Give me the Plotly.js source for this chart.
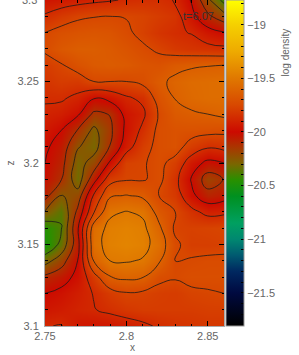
<!DOCTYPE html>
<html>
<head>
<meta charset="utf-8">
<script src="https://cdn.plot.ly/plotly-3.0.1.min.js"></script>
<style>html,body{margin:0;padding:0;background:#fff;}#plot{width:299px;height:355px;}</style>
</head>
<body>
<div id="plot"></div>
<script>
// grid coordinates
const xVals = [2.75, 2.76, 2.77, 2.78, 2.79, 2.80, 2.81, 2.82, 2.83, 2.84, 2.85, 2.86];
const yVals = [3.10, 3.11, 3.12, 3.13, 3.14, 3.15, 3.16, 3.17, 3.18, 3.19, 3.20,
               3.21, 3.22, 3.23, 3.24, 3.25, 3.26, 3.27, 3.28, 3.29, 3.30];

// log density, one row per z value
const r310 = [-19.88, -19.87, -19.95, -19.96, -19.95, -19.93, -19.90, -19.86, -19.84, -19.83, -19.82, -19.82];
const r311 = [-19.95, -19.93, -19.90, -19.88, -19.85, -19.82, -19.80, -19.80, -19.80, -19.80, -19.79, -19.79];
const r312 = [-20.00, -19.97, -19.92, -19.87, -19.80, -19.76, -19.77, -19.79, -19.80, -19.77, -19.76, -19.75];
const r313 = [-20.10, -20.05, -19.97, -19.80, -19.63, -19.60, -19.62, -19.72, -19.74, -19.72, -19.72, -19.72];
const r314 = [-20.30, -20.18, -20.00, -19.62, -19.50, -19.49, -19.51, -19.61, -19.75, -19.74, -19.73, -19.73];
const r315 = [-20.50, -20.34, -20.05, -19.54, -19.46, -19.44, -19.46, -19.55, -19.73, -19.79, -19.79, -19.78];
const r316 = [-20.46, -20.38, -20.02, -19.56, -19.47, -19.45, -19.47, -19.60, -19.77, -19.78, -19.77, -19.76];
const r317 = [-20.26, -20.36, -20.10, -19.76, -19.52, -19.495, -19.52, -19.67, -19.75, -19.84, -19.91, -19.90];
const r318 = [-20.08, -20.26, -20.20, -19.86, -19.64, -19.62, -19.645, -19.75, -19.81, -19.97, -20.08, -20.05];
const r319 = [-20.02, -20.12, -20.32, -20.05, -19.80, -19.76, -19.76, -19.72, -19.84, -20.01, -20.19, -20.12];
const r320 = [-20.00, -20.08, -20.30, -20.20, -19.98, -19.78, -19.76, -19.72, -19.79, -19.94, -20.03, -20.00];
const r321 = [-19.98, -20.05, -20.24, -20.30, -20.12, -19.93, -19.79, -19.72, -19.70, -19.80, -19.86, -19.84];
const r322 = [-19.94, -20.00, -20.13, -20.28, -20.15, -19.97, -19.85, -19.72, -19.70, -19.70, -19.71, -19.72];
const r323 = [-19.90, -19.92, -19.98, -20.15, -20.12, -19.96, -19.90, -19.74, -19.66, -19.64, -19.625, -19.60];
const r324 = [-19.86, -19.86, -19.90, -19.99, -19.96, -19.89, -19.85, -19.70, -19.62, -19.58, -19.56, -19.56];
const r325 = [-19.83, -19.80, -19.81, -19.75, -19.75, -19.75, -19.72, -19.65, -19.60, -19.57, -19.56, -19.55];
const r326 = [-19.80, -19.76, -19.70, -19.66, -19.65, -19.66, -19.69, -19.70, -19.66, -19.64, -19.63, -19.625];
const r327 = [-19.73, -19.67, -19.64, -19.64, -19.66, -19.69, -19.73, -19.77, -19.81, -19.83, -19.84, -19.85];
const r328 = [-19.75, -19.71, -19.69, -19.68, -19.69, -19.73, -19.78, -19.83, -19.86, -19.88, -19.95, -19.99];
const r329 = [-19.86, -19.81, -19.77, -19.755, -19.75, -19.755, -19.77, -19.80, -19.83, -19.96, -20.10, -20.20];
const r330 = [-19.96, -19.94, -19.92, -19.90, -19.885, -19.865, -19.85, -19.85, -19.88, -20.01, -20.22, -20.42];

const zGrid = [r310, r311, r312, r313, r314, r315, r316, r317, r318, r319, r320,
               r321, r322, r323, r324, r325, r326, r327, r328, r329, r330];

// colour bar
const zMin = -21.81, zMax = -18.77;
const cbMajor = [-21.5, -21, -20.5, -20, -19.5, -19];
const cbLabels = ['\u221221.5', '\u221221', '\u221220.5', '\u221220', '\u221219.5', '\u221219'];
const xTicks = [2.75, 2.8, 2.85];
const xTickText = ['2.75', '2.8', '2.85'];
const yTicks = [3.1, 3.15, 3.2, 3.25];
const yTickText = ['3.1', '3.15', '3.2', '3.25'];
const yTopLabel = '3.3';
const timeLabel = 't=6.07';

// colour map stops (value, colour)
const mapVals = [-21.81, -21.5, -21.3, -21.15, -21.0, -20.85, -20.6, -20.45, -20.3, -20.15, -20.0, -19.75, -19.5, -19.25, -19.0, -18.77];
const mapCols = ['#000000', '#000a40', '#002860', '#005a70', '#008870', '#00a060', '#009020', '#289000',
                 '#7a6600', '#a83800', '#cc0a00', '#d84800', '#e07800', '#eeaa00', '#f5d000', '#ffff00'];
const colorscale = mapVals.map((v, i) => [(v - zMin) / (zMax - zMin), mapCols[i]]);

// colour bar ticks every 0.1, labels on the majors
const cbTickVals = [], cbTickText = [];
for (let k = -218; k <= -188; k++) {
  const v = k / 10;
  cbTickVals.push(v);
  const j = cbMajor.findIndex(m => Math.abs(m - v) < 1e-6);
  cbTickText.push(j >= 0 ? cbLabels[j] : '');
}

const font = {family: 'Liberation Sans, Arial, sans-serif', size: 11, color: '#666'};

const heat = {
  type: 'heatmap', x: xVals, y: yVals, z: zGrid,
  zmin: zMin, zmax: zMax, colorscale: colorscale, zsmooth: 'best',
  colorbar: {
    x: 1.011, xanchor: 'left', xpad: 0, y: 0, yanchor: 'bottom', ypad: 0,
    len: 1, lenmode: 'fraction', thickness: 18, thicknessmode: 'pixels',
    outlinecolor: '#999', outlinewidth: 1,
    tickmode: 'array', tickvals: cbTickVals, ticktext: cbTickText,
    ticks: 'inside', ticklen: 3, tickcolor: '#000', tickwidth: 1,
    tickfont: font
  },
  hoverinfo: 'skip'
};

const lines = {
  type: 'contour', x: xVals, y: yVals, z: zGrid,
  showscale: false,
  contours: {coloring: 'none', start: -21, end: -19, size: 0.125},
  line: {color: '#1a1a1a', width: 0.8, smoothing: 1.3},
  hoverinfo: 'skip'
};

const axisCommon = {
  showgrid: false, zeroline: false, showline: true, linecolor: '#aaa', linewidth: 1,
  mirror: 'allticks', ticks: 'inside', ticklen: 5, tickwidth: 1, tickcolor: '#000',
  tickfont: font
};

const layout = {
  width: 299, height: 355,
  margin: {l: 45, r: 75, t: 0, b: 29, pad: 0},
  paper_bgcolor: '#fff', plot_bgcolor: '#fff',
  font: font,
  showlegend: false,
  xaxis: Object.assign({}, axisCommon, {
    range: [2.75, 2.86], tickmode: 'array', tickvals: xTicks, ticktext: xTickText,
    minor: {ticks: 'inside', dtick: 0.01, tick0: 2.75, ticklen: 2.5, tickcolor: '#000', tickwidth: 1}
  }),
  yaxis: Object.assign({}, axisCommon, {
    range: [3.1, 3.3], tickmode: 'array', tickvals: yTicks, ticktext: yTickText,
    ticklabelstandoff: 3,
    minor: {ticks: 'inside', dtick: 0.01, tick0: 3.1, ticklen: 2.5, tickcolor: '#000', tickwidth: 1}
  }),
  annotations: [
    {text: yTopLabel, xref: 'paper', yref: 'paper', x: -0.032, y: 1, xanchor: 'right', yanchor: 'middle', showarrow: false,
     font: font},
    {text: 'x', xref: 'paper', yref: 'paper', x: 0.49, y: -0.066, yanchor: 'middle', showarrow: false,
     font: {family: font.family, size: 10, color: '#666'}},
    {text: 'z', xref: 'paper', yref: 'paper', x: -0.235, y: 0.5, textangle: -90, showarrow: false,
     font: {family: font.family, size: 10, color: '#666'}},
    {text: 'log density', xref: 'paper', yref: 'paper', x: 1.385, y: 0.92, textangle: -90, showarrow: false,
     font: {family: font.family, size: 10, color: '#666'}},
    {text: timeLabel, xref: 'paper', yref: 'paper', x: 0.86, y: 0.952, xanchor: 'center', yanchor: 'middle', showarrow: false,
     font: {family: font.family, size: 11, color: '#333'}}
  ]
};

Plotly.newPlot('plot', [heat, lines], layout, {staticPlot: true, displayModeBar: false});
</script>
</body>
</html>
